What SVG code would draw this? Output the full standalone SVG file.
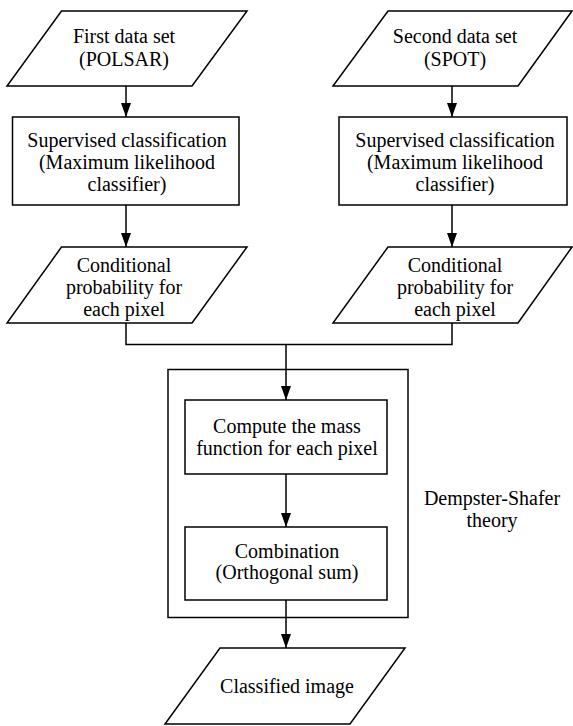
<svg xmlns="http://www.w3.org/2000/svg" width="573" height="726" viewBox="0 0 573 726">
<style>
.s{fill:#fff;stroke:#000;stroke-width:1.5}
.c{fill:none;stroke:#000;stroke-width:1.5}
text{font-family:"Liberation Serif","Times New Roman",serif;font-size:20px;fill:#000;text-anchor:middle}
</style>
<defs>
<marker id="ah" markerUnits="userSpaceOnUse" viewBox="0 0 14 10" markerWidth="14" markerHeight="10" refX="14" refY="5" orient="auto">
<path d="M0,0 L14,5 L0,10 z" fill="#000"/>
</marker>
</defs>
<rect width="573" height="726" fill="#fff"/>
<g id="ds-box">
<rect class="s" x="168" y="369.5" width="240" height="248"/>
<text x="492" y="505">Dempster-Shafer</text>
<text x="492" y="527">theory</text>
</g>
<g id="connectors">
<line class="c" x1="126" y1="86" x2="126" y2="117" marker-end="url(#ah)"/>
<line class="c" x1="126" y1="205" x2="126" y2="247" marker-end="url(#ah)"/>
<line class="c" x1="452" y1="86" x2="452" y2="117" marker-end="url(#ah)"/>
<line class="c" x1="452" y1="205" x2="452" y2="247" marker-end="url(#ah)"/>
<polyline class="c" points="126,323 126,344.5 452,344.5 452,323"/>
<line class="c" x1="286" y1="344.5" x2="286" y2="400" marker-end="url(#ah)"/>
<line class="c" x1="286" y1="474" x2="286" y2="527" marker-end="url(#ah)"/>
<line class="c" x1="286" y1="600" x2="286" y2="648" marker-end="url(#ah)"/>
</g>
<g id="n1">
<polygon class="s" points="61.5,11 247,11 192,86 7,86"/>
<text x="124" y="43">First data set</text>
<text x="124" y="66">(POLSAR)</text>
</g>
<g id="n2">
<polygon class="s" points="388,11 572,11 518,86 333,86"/>
<text x="455" y="43">Second data set</text>
<text x="455" y="66">(SPOT)</text>
</g>
<g id="n3">
<rect class="s" x="12.5" y="117" width="226.5" height="88"/>
<text x="127" y="147">Supervised classification</text>
<text x="127" y="169">(Maximum likelihood</text>
<text x="127" y="191">classifier)</text>
</g>
<g id="n4">
<rect class="s" x="339" y="117" width="228" height="88"/>
<text x="455" y="147">Supervised classification</text>
<text x="455" y="169">(Maximum likelihood</text>
<text x="455" y="191">classifier)</text>
</g>
<g id="n5">
<polygon class="s" points="61.5,247 247,247 192,323 7,323"/>
<text x="124" y="272">Conditional</text>
<text x="124" y="294">probability for</text>
<text x="124" y="316">each pixel</text>
</g>
<g id="n6">
<polygon class="s" points="388,247 572,247 518,323 333,323"/>
<text x="455" y="272">Conditional</text>
<text x="455" y="294">probability for</text>
<text x="455" y="316">each pixel</text>
</g>
<g id="n7">
<rect class="s" x="185" y="400" width="202" height="74"/>
<text x="287" y="433">Compute the mass</text>
<text x="287" y="455">function for each pixel</text>
</g>
<g id="n8">
<rect class="s" x="185" y="527" width="202" height="73"/>
<text x="287" y="558">Combination</text>
<text x="287" y="579">(Orthogonal sum)</text>
</g>
<g id="n9">
<polygon class="s" points="220,648 405,648 350,724 165,724"/>
<text x="287" y="693">Classified image</text>
</g>
</svg>
